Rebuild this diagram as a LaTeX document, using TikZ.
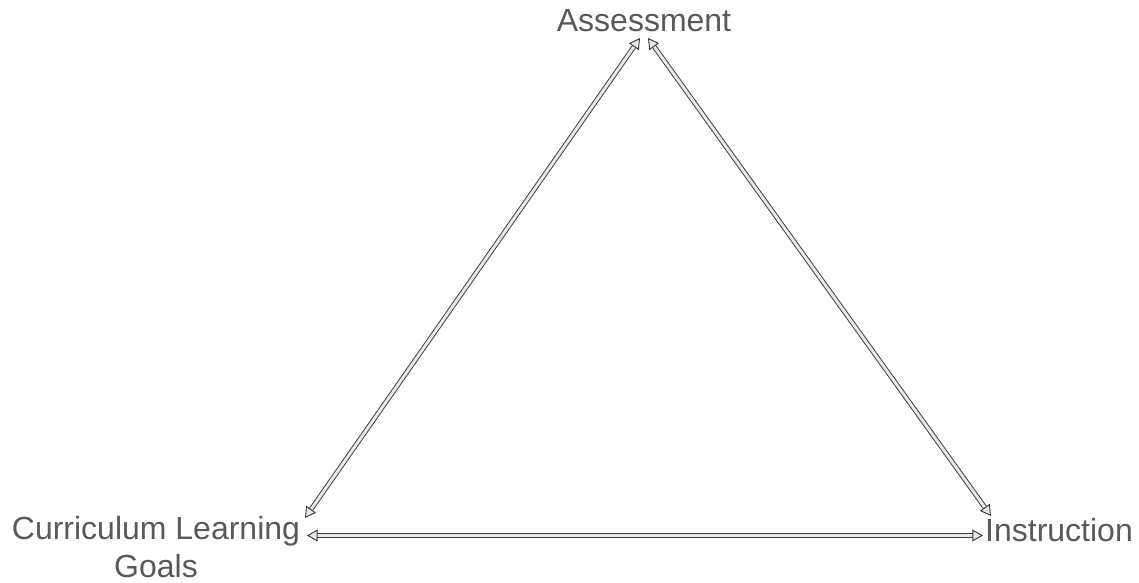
\documentclass[tikz,border=0pt]{standalone}
\usepackage{fontspec}
\setmainfont{Liberation Sans}
\usetikzlibrary{arrows.meta}
\definecolor{txt}{HTML}{595959}
\definecolor{edge}{HTML}{3A3A3A}
\definecolor{fillc}{HTML}{E8E8E8}
\begin{document}
\begin{tikzpicture}[x=0.75pt,y=-0.75pt,
  lbl/.style={text=txt,font=\fontsize{24}{28}\selectfont,inner sep=0pt,align=center},
  hollow/.style={draw=edge,line width=0.7pt,double=fillc,double distance=2.2pt,
    {Triangle[open,length=8pt,width=9pt,fill=fillc]}-{Triangle[open,length=8pt,width=9pt,fill=fillc]}}]
\useasboundingbox (0,0) rectangle (1139,582);
\node[lbl] (A) at (644,21) {Assessment};
\node[lbl] (C) at (156,547) {Curriculum Learning\\Goals};
\node[lbl] (I) at (1059,530) {Instruction};
\coordinate (a1) at (640,38);
\coordinate (a2) at (648,38);
\coordinate (c1) at (305,518);
\coordinate (c2) at (307,535.5);
\coordinate (i1) at (991,516);
\coordinate (i2) at (983,535.5);
\draw[hollow] (c1) -- (a1);
\draw[hollow] (a2) -- (i1);
\draw[hollow] (c2) -- (i2);
\end{tikzpicture}
\end{document}
